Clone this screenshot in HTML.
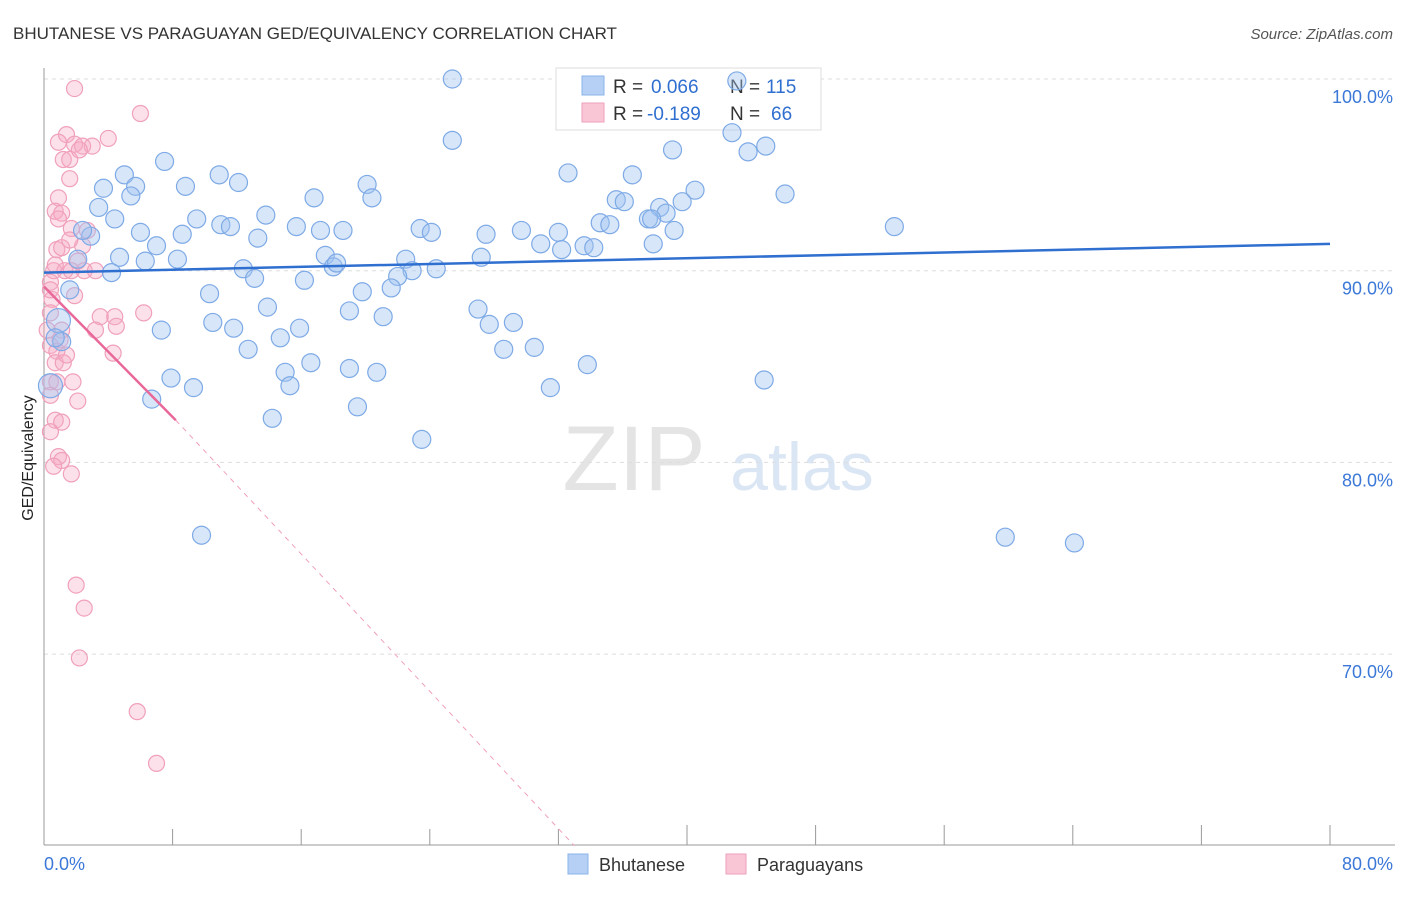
<!DOCTYPE html>
<html><head><meta charset="utf-8">
<style>
body{margin:0;background:#fff;font-family:"Liberation Sans",sans-serif;}
svg text{font-family:"Liberation Sans",sans-serif;}
</style></head>
<body>
<svg id="chart" width="1406" height="892" viewBox="0 0 1406 892" xmlns="http://www.w3.org/2000/svg">
<text x="13" y="39" font-size="17" fill="#333">BHUTANESE VS PARAGUAYAN GED/EQUIVALENCY CORRELATION CHART</text>
<text x="1393" y="39" font-size="15" fill="#555" text-anchor="end" font-style="italic">Source: ZipAtlas.com</text>
<g>
<text x="634" y="490" font-size="92" fill="#e4e4e4" text-anchor="middle" font-family="Liberation Serif, serif">ZIP</text>
<text x="802" y="490" font-size="68" fill="#dbe6f5" text-anchor="middle">atlas</text>
</g>
<g id="grid"></g>
<g id="axes"></g>
<text transform="translate(33,458) rotate(-90)" font-size="16" fill="#222" text-anchor="middle">GED/Equivalency</text>
<g>
<rect x="556" y="68" width="265" height="62" fill="#fff" stroke="#ddd"/>
<rect x="582" y="76" width="22" height="19" fill="#b6d0f5" stroke="#8ab4e8"/>
<rect x="582" y="103" width="22" height="19" fill="#f9c6d6" stroke="#f0a0bb"/>
<text x="613" y="93" font-size="19" fill="#333">R =</text>
<text x="651" y="93" font-size="19" fill="#2f6fd0">0.066</text>
<text x="730" y="93" font-size="19" fill="#333">N =</text>
<text x="766" y="93" font-size="19" fill="#2f6fd0">115</text>
<text x="613" y="120" font-size="19" fill="#333">R =</text>
<text x="647" y="120" font-size="19" fill="#2f6fd0">-0.189</text>
<text x="730" y="120" font-size="19" fill="#333">N =</text>
<text x="771" y="120" font-size="19" fill="#2f6fd0">66</text>
</g>
<g id="pink"></g>
<g id="blue"></g>
<g id="trends"></g>
<g>
<rect x="568" y="854" width="20" height="20" fill="#b6d0f5" stroke="#8ab4e8"/>
<text x="599" y="871" font-size="18" fill="#333">Bhutanese</text>
<rect x="726" y="854" width="20" height="20" fill="#f9c6d6" stroke="#f0a0bb"/>
<text x="757" y="871" font-size="18" fill="#333">Paraguayans</text>
</g>
</svg>
<script>
const blueX=[25.4,43.1,25.4,42.8,43.8,44.9,39.1,7.5,5.0,10.9,12.1,8.8,5.7,3.7,5.4,32.6,36.6,20.1,20.4,16.8,46.1,40.5,39.7,35.6,36.1,38.3,38.7,37.6,37.8,34.6,35.2,3.4,4.4,13.8,9.5,11.0,11.6,15.7,17.2,18.6,23.4,24.1,27.5,29.7,32.0,30.9,33.6,34.2,39.2,37.9,52.9,6.0,8.6,2.9,2.4,13.3,7.0,32.2,4.7,6.3,8.3,2.1,17.5,18.0,18.2,22.5,22.9,22.0,24.4,27.2,12.4,13.1,16.2,4.2,21.6,19.8,10.3,1.6,27.0,27.7,29.2,19.0,21.1,13.9,10.5,11.8,15.9,7.3,14.7,12.7,28.6,30.5,0.9,1.1,0.7,0.4,7.9,9.3,15.0,16.6,19.0,20.7,15.3,33.8,44.8,31.5,6.7,19.5,14.2,23.5,9.8,59.8,64.1];
const blueY=[100,99.9,96.8,97.2,96.2,96.5,96.3,95.7,95.0,95.0,94.6,94.4,94.4,94.3,93.9,95.1,95.0,94.5,93.8,93.8,94.0,94.2,93.6,93.7,93.6,93.3,93.0,92.7,92.7,92.5,92.4,93.3,92.7,92.9,92.7,92.4,92.3,92.3,92.1,92.1,92.2,92.0,91.9,92.1,92.0,91.4,91.3,91.2,92.1,91.4,92.3,92.0,91.9,91.8,92.1,91.7,91.3,91.1,90.7,90.5,90.6,90.6,90.8,90.2,90.4,90.6,90.0,89.7,90.1,90.7,90.1,89.6,89.5,89.9,89.1,88.9,88.8,89.0,88.0,87.2,87.3,87.9,87.6,88.1,87.3,87.0,87.0,86.9,86.5,85.9,85.9,86.0,87.4,86.3,86.5,84.0,84.4,83.9,84.7,85.2,84.9,84.7,84.0,85.1,84.3,83.9,83.3,82.9,82.3,81.2,76.2,76.1,75.8];
const pinkX=[1.9,6.0,1.4,4.0,0.9,1.9,2.4,3.0,1.2,1.6,1.6,0.9,0.7,1.1,0.9,1.7,2.4,0.8,1.1,2.1,0.6,1.3,1.7,2.5,0.4,0.5,1.9,0.4,6.2,3.5,4.4,4.5,3.2,1.1,0.4,0.8,4.3,0.7,1.2,0.4,1.8,0.8,2.1,0.7,1.1,0.4,0.9,1.1,0.6,1.7,2.0,2.5,2.2,5.8,7.0,0.4,0.4,0.7,1.0,1.4,0.2,1.6,2.7,2.2,3.2];
const pinkY=[99.5,98.2,97.1,96.9,96.7,96.6,96.5,96.5,95.8,95.8,94.8,93.8,93.1,93.0,92.7,92.2,91.3,91.1,91.2,90.5,90.0,90.0,90.0,90.0,89.4,88.5,88.7,87.8,87.8,87.6,87.6,87.1,86.9,86.9,86.1,85.8,85.7,85.2,85.2,84.2,84.2,84.2,83.2,82.2,82.1,81.6,80.3,80.1,79.8,79.4,73.6,72.4,69.8,67.0,64.3,83.5,89.0,90.3,86.4,85.6,86.9,91.6,92.1,96.3,90.0];
const yTicks=[100,90,80,70];
const yTickLabels=["100.0%","90.0%","80.0%","70.0%"];
const xTicks=[0,8,16,24,32,40,48,56,64,72,80];
const blueTrend=[89.9,91.4];
const pinkTrend=[89.17,82.2,60.0];
const pinkTrendX=[0,8.2,33.0];

const NS="http://www.w3.org/2000/svg";
const sx=v=>44+v*16.075;
const sy=v=>79+(100-v)*19.17;
function mk(tag,attrs,parent){const e=document.createElementNS(NS,tag);for(const k in attrs)e.setAttribute(k,attrs[k]);parent.appendChild(e);return e;}
const grid=document.getElementById('grid'),axes=document.getElementById('axes');
yTicks.forEach((t,i)=>{
 const l=mk('line',{x1:44,x2:1395,y1:sy(t),y2:sy(t),stroke:'#ddd','stroke-dasharray':'4,4'},grid);
 
 
 const tx=mk('text',{x:1393,y:sy(t)+24,'font-size':18,fill:'#3b78d8','text-anchor':'end'},axes);
 tx.textContent=yTickLabels[i];
 
 
});
const yl=mk('line',{x1:44,x2:44,y1:68,y2:845,stroke:'#999'},axes);


const xl=mk('line',{x1:44,x2:1395,y1:845,y2:845,stroke:'#999'},axes);


xTicks.forEach(t=>{
 const tk=mk('line',{x1:sx(t),x2:sx(t),y1:t>=40?825:829,y2:845,stroke:'#999'},axes);
 
 
});
const x0=mk('text',{x:44,y:870,'font-size':18,fill:'#3b78d8'},axes);x0.textContent='0.0%';


const x1=mk('text',{x:1393,y:870,'font-size':18,fill:'#3b78d8','text-anchor':'end'},axes);x1.textContent='80.0%';



const pink=document.getElementById('pink');
pinkX.forEach((v,i)=>{
 const c=mk('circle',{cx:sx(v),cy:sy(pinkY[i]),r:8,fill:'rgba(245,170,195,0.35)',stroke:'#f0a0bb','stroke-width':1.2},pink);
 
 
});
const blue=document.getElementById('blue');
blueX.forEach((v,i)=>{
 const big=(v<1.2&&(blueY[i]<84.5||blueY[i]>87));
 const c=mk('circle',{cx:sx(v),cy:sy(blueY[i]),r:big?12:9,fill:'rgba(160,196,240,0.42)',stroke:'#7eaae6','stroke-width':1.2},blue);
 
 
});
const tr=document.getElementById('trends');
const bt=mk('line',{x1:sx(0),y1:sy(blueTrend[0]),x2:sx(80),y2:sy(blueTrend[1]),stroke:'#2f6fd0','stroke-width':2.5},tr);


const pt=mk('line',{x1:sx(pinkTrendX[0]),y1:sy(pinkTrend[0]),x2:sx(pinkTrendX[1]),y2:sy(pinkTrend[1]),stroke:'#e8689a','stroke-width':2.5},tr);


const pd=mk('line',{x1:sx(pinkTrendX[1]),y1:sy(pinkTrend[1]),x2:sx(pinkTrendX[2]),y2:sy(pinkTrend[2]),stroke:'#f0a0bb','stroke-width':1,'stroke-dasharray':'5,5'},tr);


</script>
</body></html>
